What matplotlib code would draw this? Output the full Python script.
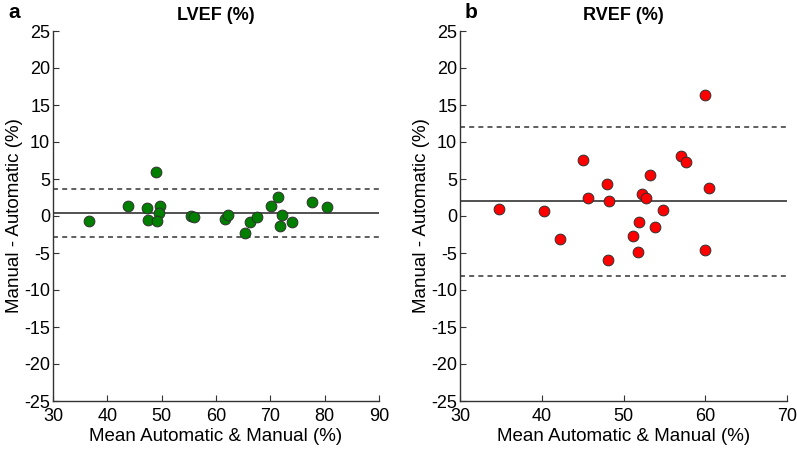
import matplotlib
matplotlib.use("Agg")
import matplotlib.pyplot as plt
import numpy as np

plt.rcParams['font.family'] = ['Liberation Sans', 'DejaVu Sans']
plt.rcParams['axes.unicode_minus'] = False

# LVEF data
lv_mean = [36.6, 43.8, 47.3, 47.4, 49.0, 49.7, 49.5, 49.1, 55.4, 56.0, 61.7, 62.3,
           65.4, 66.3, 67.6, 70.2, 71.4, 72.2, 71.8, 73.9, 77.6, 80.5]
lv_diff = [-0.7, 1.35, 1.1, -0.6, 5.9, 1.3, 0.45, -0.7, 0.05, -0.1, -0.35, 0.1,
           -2.25, -0.85, -0.15, 1.3, 2.6, 0.2, -1.3, -0.85, 1.9, 1.25]
lv_bias = 0.4
lv_loa = [3.65, -2.85]

# RVEF data
rv_mean = [34.8, 40.3, 42.2, 45.05, 45.6, 47.95, 48.2, 48.1, 51.2, 51.75, 51.9,
           52.3, 52.7, 53.3, 53.8, 54.8, 57.0, 57.7, 60.4, 60.0, 60.0]
rv_diff = [1.0, 0.7, -3.1, 7.6, 2.45, 4.3, 2.0, -6.0, -2.65, -4.8, -0.8,
           3.0, 2.45, 5.6, -1.45, 0.8, 8.1, 7.25, 3.8, -4.6, 16.4]
rv_bias = 2.0
rv_loa = [12.0, -8.1]

yticks = list(range(-25, 30, 5))

fig = plt.figure(figsize=(7.97, 4.5), dpi=100)
ax1 = fig.add_axes([53/797, 49/450, 326/797, 370/450])
ax2 = fig.add_axes([460/797, 49/450, 327/797, 370/450])

panels = [
    (ax1, lv_mean, lv_diff, lv_bias, lv_loa, '#007F00', 'LVEF (%)', (30, 90), range(30, 91, 10)),
    (ax2, rv_mean, rv_diff, rv_bias, rv_loa, '#FF0000', 'RVEF (%)', (30, 70), range(30, 71, 10)),
]

for ax, xm, yd, bias, loa, col, title, xlim, xt in panels:
    ax.axhline(bias, color='#333333', lw=1.2, zorder=1)
    for l in loa:
        ax.axhline(l, color='#444444', lw=1.2, ls=(0, (3, 2.5)), zorder=1)
    ax.scatter(xm, yd, s=60, color=col, edgecolors='#303030', linewidths=0.7, zorder=3)
    ax.set_xlim(*xlim)
    ax.set_ylim(-25, 25)
    ax.set_xticks(list(xt))
    ax.set_yticks(yticks)
    ax.tick_params(direction='in', length=4, labelsize=13, color='#333333', width=0.8)
    ax.tick_params(axis='y', pad=2)
    ax.tick_params(axis='x', pad=5)
    ax.spines['top'].set_visible(False)
    ax.spines['right'].set_visible(False)
    for s in ['left', 'bottom']:
        ax.spines[s].set_color('#333333')
        ax.spines[s].set_linewidth(1.0)
    ax.set_xlabel('Mean Automatic & Manual (%)', fontsize=13.5, labelpad=2)
    ax.set_ylabel('Manual - Automatic (%)', fontsize=13.5, labelpad=1)
    ax.set_title(title, fontsize=13, fontweight='bold', pad=8)

fig.text(8/797, 1 - 12/450, 'a', fontsize=15, fontweight='bold', va='center', ha='left')
fig.text(465/797, 1 - 12/450, 'b', fontsize=15, fontweight='bold', va='center', ha='left')

fig.savefig('out.png', dpi=100)
